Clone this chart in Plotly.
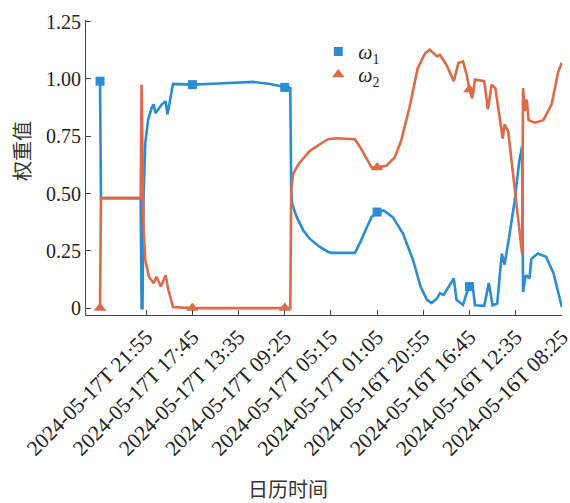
import numpy as np
import pandas as pd
import plotly.graph_objects as go

# Samples are 5 minutes apart, counted backwards from the newest record.
t_start = pd.Timestamp("2024-05-18 02:05")
step_min = 5

# omega_1 weight: (sample index, value)
w1_idx = [0, 1, 44, 45, 46, 47, 49, 52, 56, 58, 60, 64, 67, 71, 73, 79, 100, 128, 166, 184,
          200, 206, 207, 208, 213, 220, 227, 238, 247, 251, 276, 282, 289, 294, 300, 307,
          317, 328, 339, 347, 354, 359, 365, 368, 372, 383, 386, 393, 397, 400, 404, 406,
          416, 421, 425, 430, 435, 438, 443, 449, 454, 457, 458, 461, 465, 467, 474, 483,
          491, 496, 500]
w1_val = [0.99, 0.48, 0.48, 0.00, 0.00, 0.47, 0.72, 0.82, 0.875, 0.889, 0.85, 0.875, 0.889,
          0.903, 0.845, 0.978, 0.975, 0.98, 0.987, 0.978,
          0.963, 0.96, 0.51, 0.455, 0.397, 0.34, 0.303, 0.267, 0.245, 0.241, 0.241, 0.289,
          0.354, 0.397, 0.419, 0.426,
          0.397, 0.325, 0.209, 0.094, 0.036, 0.022, 0.043, 0.065, 0.058, 0.13, 0.036, 0.014,
          0.065, 0.094, 0.079, 0.012,
          0.01, 0.11, 0.012, 0.02, 0.238, 0.19, 0.31, 0.47, 0.643, 0.705, 0.07, 0.144, 0.13,
          0.215, 0.238, 0.224,
          0.152, 0.065, 0.005]

# omega_2 weight: (sample index, value)
w2_idx = [0, 1, 44, 45, 47, 49, 53, 58, 61, 66, 71, 74, 79, 100, 200, 206, 207, 209, 215,
          224, 227, 238, 247, 256, 276, 282, 289, 294, 300, 310, 319, 326, 335, 344, 352,
          357, 365, 368, 375, 383, 388, 393, 397, 400, 403, 406, 416, 420, 424, 428, 436,
          438, 442, 447, 453, 457, 458, 460, 462, 464, 471, 480, 489, 496, 500]
w2_val = [0.0, 0.48, 0.48, 0.975, 0.35, 0.21, 0.137, 0.108, 0.137, 0.094, 0.144, 0.079,
          0.005, 0.0, 0.0, 0.0, 0.513, 0.585, 0.629,
          0.672, 0.686, 0.715, 0.737, 0.741, 0.737, 0.70, 0.65, 0.614, 0.614, 0.621, 0.657,
          0.73, 0.874, 1.047, 1.112,
          1.127, 1.098, 1.105, 1.062, 0.99, 1.069, 1.076, 1.018, 0.954, 0.915, 0.997, 0.99,
          0.867, 0.975, 0.96, 0.74,
          0.802, 0.77, 0.60, 0.397, 0.238, 0.96, 0.86, 0.91, 0.82, 0.809, 0.82, 0.889, 1.03,
          1.07]

marker_idx = [0, 100, 200, 300, 400]

tick_times = ["2024-05-17 21:55", "2024-05-17 17:45", "2024-05-17 13:35", "2024-05-17 09:25",
              "2024-05-17 05:15", "2024-05-17 01:05", "2024-05-16 20:55", "2024-05-16 16:45",
              "2024-05-16 12:35", "2024-05-16 08:25"]
tick_labels = ["2024-05-17T 21:55", "2024-05-17T 17:45", "2024-05-17T 13:35",
               "2024-05-17T 09:25", "2024-05-17T 05:15", "2024-05-17T 01:05",
               "2024-05-16T 20:55", "2024-05-16T 16:45", "2024-05-16T 12:35",
               "2024-05-16T 08:25"]
y_ticks = [0, 0.25, 0.5, 0.75, 1.0, 1.25]
y_labels = ["0", "0.25", "0.50", "0.75", "1.00", "1.25"]

BLUE = "#2B8CD3"
ORANGE = "#DD6A49"


def to_time(idx):
    return t_start - pd.to_timedelta(np.asarray(idx) * step_min, unit="min")


def pick(idx, val):
    m = [(i, v) for i, v in zip(idx, val) if i in marker_idx]
    return to_time([p[0] for p in m]), [p[1] for p in m]


fig = go.Figure()

fig.add_trace(go.Scatter(x=to_time(w1_idx), y=w1_val, mode="lines",
                         line=dict(color=BLUE, width=2.6), showlegend=False))
fig.add_trace(go.Scatter(x=to_time(w2_idx), y=w2_val, mode="lines",
                         line=dict(color=ORANGE, width=2.6), showlegend=False))

mx, my = pick(w1_idx, w1_val)
fig.add_trace(go.Scatter(x=mx, y=my, mode="markers", name="<i>ω</i><sub>1</sub>",
                         marker=dict(symbol="square", size=9, color=BLUE),
                         legend="legend"))
mx, my = pick(w2_idx, w2_val)
fig.add_trace(go.Scatter(x=mx, y=my, mode="markers", name="<i>ω</i><sub>2</sub>",
                         marker=dict(symbol="triangle-up", size=11, color=ORANGE),
                         legend="legend2"))

axis_font = dict(family="Liberation Serif", size=20, color="#222222")
tick_font_x = dict(family="Liberation Serif", size=21.5, color="#222222")
cjk_font = dict(family="Noto Sans CJK SC", size=20, color="#333333")
legend_font = dict(family="Liberation Serif", size=20, color="#222222")

fig.update_layout(
    width=570, height=503,
    margin=dict(l=86, r=8, t=20, b=188),
    plot_bgcolor="white", paper_bgcolor="white",
    font=axis_font,
    legend=dict(x=0.488, y=0.959, xanchor="left", yanchor="top",
                bgcolor="rgba(0,0,0,0)", font=legend_font, itemwidth=30),
    legend2=dict(x=0.488, y=0.881, xanchor="left", yanchor="top",
                 bgcolor="rgba(0,0,0,0)", font=legend_font, itemwidth=30),
    xaxis=dict(type="date", range=["2024-05-18 03:21", "2024-05-16 08:24"],
               tickvals=list(pd.to_datetime(tick_times)), ticktext=tick_labels,
               tickangle=-45, tickfont=tick_font_x, ticklabeloverflow="allow",
               automargin=False,
               showline=True, linecolor="#444444", linewidth=1,
               ticks="inside", ticklen=5, tickcolor="#444444",
               showgrid=False, zeroline=False),
    yaxis=dict(range=[-0.03, 1.257], tickvals=y_ticks, ticktext=y_labels,
               tickfont=axis_font, automargin=False,
               showline=True, linecolor="#444444", linewidth=1,
               ticks="inside", ticklen=5, tickcolor="#444444",
               showgrid=False, zeroline=False),
    annotations=[
        dict(text="日历时间", xref="paper", yref="paper", x=0.424, y=0,
             yshift=-173, showarrow=False, font=cjk_font,
             xanchor="center", yanchor="middle"),
        dict(text="权重值", xref="paper", yref="paper", x=0, y=0.556,
             xshift=-64, showarrow=False, font=cjk_font, textangle=-90,
             xanchor="center", yanchor="middle"),
    ],
)

fig.write_html("out.html")
